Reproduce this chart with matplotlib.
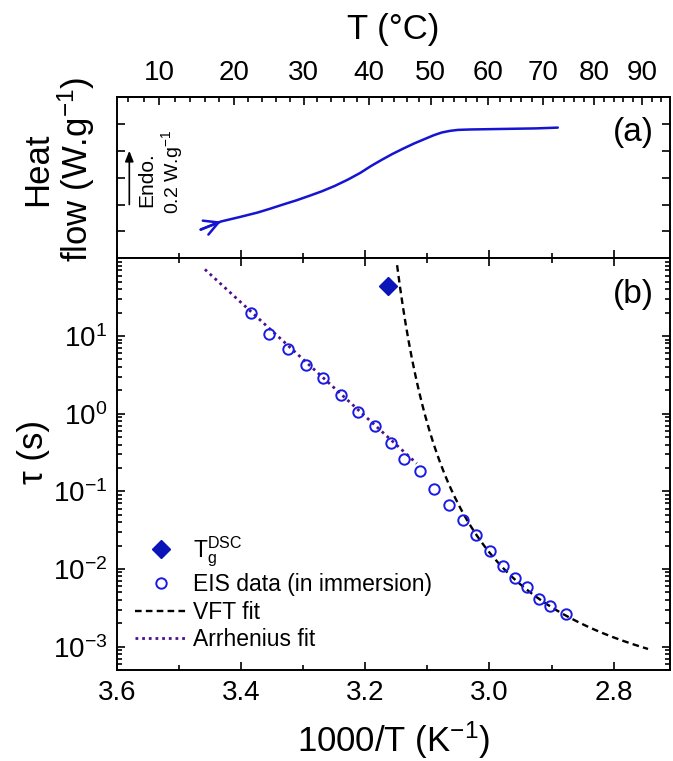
import numpy as np
import matplotlib
matplotlib.use("Agg")
import matplotlib.pyplot as plt
from matplotlib.ticker import FixedLocator, LogLocator, NullFormatter, MultipleLocator, FormatStrFormatter
from matplotlib.lines import Line2D
import matplotlib.transforms as mtransforms

plt.rcParams["font.family"] = ["Liberation Sans", "DejaVu Sans"]
plt.rcParams["mathtext.fontset"] = "custom"
plt.rcParams["mathtext.rm"] = "Liberation Sans"
plt.rcParams["mathtext.it"] = "Liberation Sans:italic"
plt.rcParams["mathtext.bf"] = "Liberation Sans:bold"
plt.rcParams["axes.unicode_minus"] = False

# ---- DSC heating scan (panel a) ----
dsc_T_C = [15.47, 18.21, 20.83, 23.28, 25.06, 26.96, 28.83, 30.75, 32.69, 34.62,
           36.66, 38.60, 40.25, 41.98, 43.68, 45.45, 47.19, 49.00, 50.53, 51.88,
           53.25, 54.63, 56.72, 60.90, 68.78, 72.88]
dsc_heat_flow = [0.1068, 0.1369, 0.1537, 0.1700, 0.1842, 0.2001, 0.2150, 0.2318, 0.2493, 0.2690,
                 0.2928, 0.3180, 0.3430, 0.3664, 0.3880, 0.4081, 0.4267, 0.4438, 0.4580, 0.4680,
                 0.4740, 0.4777, 0.4792, 0.4807, 0.4833, 0.4862]

# ---- relaxation times (panel b) ----
eis_inv_T = [3.384, 3.355, 3.324, 3.296, 3.268, 3.239, 3.211, 3.184, 3.159, 3.138,
             3.111, 3.089, 3.065, 3.043, 3.021, 2.999, 2.978, 2.958, 2.940, 2.920,
             2.902, 2.876]
eis_tau = [19.9, 10.6, 6.75, 4.28, 2.86, 1.74, 1.06, 0.695, 0.424, 0.259,
           0.185, 0.106, 0.0668, 0.0429, 0.0272, 0.0168, 0.0110, 0.00775, 0.00593, 0.00412,
           0.00335, 0.00261]

tg_dsc_inv_T = 3.164
tg_dsc_tau = 44.0

# VFT fit: log10(tau) = log_tau0 + B / (T - T0)
vft_log_tau0 = -4.045
vft_B = 57.18
vft_T0 = 308.0
vft_T_min, vft_T_max = 317.6, 364.35

# Arrhenius fit: log10(tau) = log_tau0 + slope * (1000/T)
arr_log_tau0 = -23.49
arr_slope = 7.33
arr_inv_T_max, arr_inv_T_min = 3.458, 3.117

# axis settings
x_lim = (3.6, 2.709)
tau_lim = (5e-4, 100)
tau_ticks = [1e-3, 1e-2, 1e-1, 1e0, 1e1]
heat_lim = (0.0, 0.6)
heat_ticks = [0.1, 0.2, 0.3, 0.4, 0.5]
top_T_ticks = [10, 20, 30, 40, 50, 60, 70, 80, 90]

c_curve = "#1414d2"
c_eis = "#1a1ae6"
c_tg = "#0a14b8"
c_arr = "#4b1289"


def c_to_inv(t):
    return 1000.0 / (np.asarray(t, dtype=float) + 273.15)


def inv_to_c(u):
    u = np.asarray(u, dtype=float)
    with np.errstate(divide="ignore"):
        return 1000.0 / u - 273.15


fig = plt.figure(figsize=(6.73, 7.61), dpi=100)
ax_a = fig.add_axes([0.1734, 0.6606, 0.8224, 0.2119])
ax_b = fig.add_axes([0.1734, 0.1196, 0.8224, 0.5410])

spine_w = 1.4
for ax in (ax_a, ax_b):
    for s in ax.spines.values():
        s.set_linewidth(spine_w)
    ax.set_xlim(*x_lim)
    ax.xaxis.set_major_locator(MultipleLocator(0.2))
    ax.xaxis.set_minor_locator(MultipleLocator(0.1))

# ---------------- panel (a) ----------------
u_dsc = c_to_inv(dsc_T_C)
ax_a.plot(u_dsc, dsc_heat_flow, color=c_curve, lw=1.8, solid_capstyle="round",
          solid_joinstyle="round")
ax_a.annotate("", xy=(u_dsc[1], dsc_heat_flow[1]), xytext=(u_dsc[0], dsc_heat_flow[0]),
              arrowprops=dict(arrowstyle="->,head_length=0.5,head_width=0.27",
                              color=c_curve, lw=1.8, mutation_scale=20,
                              shrinkA=0, shrinkB=0))
ax_a.set_ylim(*heat_lim)
ax_a.set_yticks(heat_ticks)
ax_a.tick_params(axis="both", which="both", direction="in", labelleft=False,
                 labelbottom=False, top=False, right=True, bottom=True, left=True)
ax_a.tick_params(which="major", length=6, width=1.2)
ax_a.tick_params(which="minor", length=3.5, width=1.2)

sec = ax_a.secondary_xaxis("top", functions=(inv_to_c, c_to_inv))
sec.set_xticks(top_T_ticks)
sec.xaxis.set_minor_locator(FixedLocator(np.arange(6, 96, 2)))
sec.tick_params(which="both", direction="in", width=1.2, labelsize=20, pad=8)
sec.tick_params(which="major", length=6)
sec.tick_params(which="minor", length=3.5)
sec.spines["top"].set_linewidth(spine_w)
sec.set_xlabel("T (°C)", fontsize=25, labelpad=15)

ax_a.set_ylabel("Heat\nflow (W.g$^{-1}$)", fontsize=25, multialignment="center",
                linespacing=1.05)
ax_a.yaxis.set_label_coords(-0.035, 0.55)

# endotherm scale bar
tr = mtransforms.blended_transform_factory(ax_a.transAxes, ax_a.transData)
ax_a.annotate("", xy=(0.0228, 0.4), xytext=(0.0228, 0.2), xycoords=tr, textcoords=tr,
              arrowprops=dict(arrowstyle="-|>,head_length=0.45,head_width=0.18",
                              color="black", lw=1.2, mutation_scale=14,
                              shrinkA=0, shrinkB=0))
ax_a.text(0.054, 0.291, "Endo.", transform=tr, rotation=90, fontsize=15,
          ha="center", va="center")
ax_a.text(0.0994, 0.321, "0.2 W.g$^{-1}$", transform=tr, rotation=90, fontsize=14,
          ha="center", va="center")
ax_a.text(0.933, 0.777, "(a)", transform=ax_a.transAxes, fontsize=24,
          ha="center", va="center")

# ---------------- panel (b) ----------------
ax_b.set_yscale("log")
ax_b.set_ylim(*tau_lim)

T_vft = np.linspace(vft_T_min, vft_T_max, 300)
tau_vft = 10 ** (vft_log_tau0 + vft_B / (T_vft - vft_T0))
ax_b.plot(1000.0 / T_vft, tau_vft, color="black", lw=1.7, ls=(0, (2.8, 1.8)))

u_arr = np.linspace(arr_inv_T_max, arr_inv_T_min, 100)
tau_arr = 10 ** (arr_log_tau0 + arr_slope * u_arr)
ax_b.plot(u_arr, tau_arr, color=c_arr, lw=2.0, ls=(0, (1.0, 1.4)))

ax_b.plot(eis_inv_T, eis_tau, ls="none", marker="o", ms=7.5, mfc="none",
          mec=c_eis, mew=1.4)
ax_b.plot([tg_dsc_inv_T], [tg_dsc_tau], ls="none", marker="D", ms=9,
          mfc=c_tg, mec=c_tg)

ax_b.yaxis.set_major_locator(FixedLocator(tau_ticks))
ax_b.yaxis.set_minor_locator(LogLocator(base=10, subs=np.arange(2, 10)))
ax_b.yaxis.set_minor_formatter(NullFormatter())
ax_b.xaxis.set_major_formatter(FormatStrFormatter("%.1f"))
ax_b.tick_params(axis="both", which="both", direction="in", top=True, right=True,
                 bottom=True, left=True, labelsize=20, pad=7)
ax_b.tick_params(which="major", length=6, width=1.2)
ax_b.tick_params(which="minor", length=3.5, width=1.2)
ax_b.set_xlabel("1000/T (K$^{-1}$)", fontsize=25, labelpad=10)
ax_b.set_ylabel("τ (s)", fontsize=25)
ax_b.yaxis.set_label_coords(-0.120, 0.53)
ax_b.text(0.933, 0.911, "(b)", transform=ax_b.transAxes, fontsize=24,
          ha="center", va="center")

handles = [
    Line2D([], [], ls="none", marker="D", ms=9, mfc=c_tg, mec=c_tg),
    Line2D([], [], ls="none", marker="o", ms=7.5, mfc="none", mec=c_eis, mew=1.4),
    Line2D([], [], color="black", lw=1.7, ls=(0, (2.8, 1.8))),
    Line2D([], [], color=c_arr, lw=2.0, ls=(0, (1.0, 1.4))),
]
labels = [r"T$_\mathregular{g}^\mathregular{DSC}$", "EIS data (in immersion)",
          "VFT fit", "Arrhenius fit"]
ax_b.legend(handles, labels, loc="lower left", bbox_to_anchor=(0.033, 0.045),
            frameon=False, fontsize=16.5, handlelength=2.3, handletextpad=0.25,
            labelspacing=0.2, borderpad=0, borderaxespad=0)

fig.savefig("out.png", dpi=100)
